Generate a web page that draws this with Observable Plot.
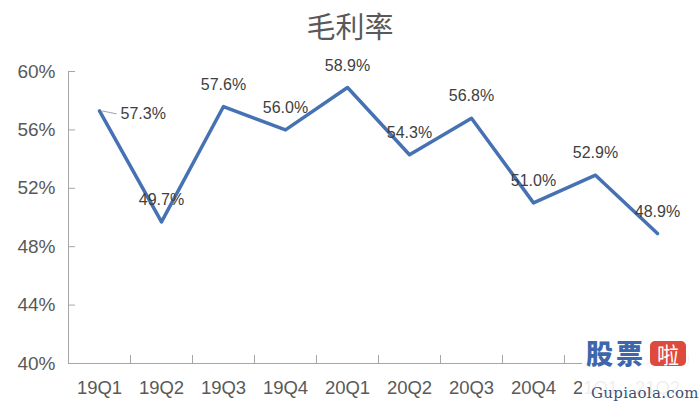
<!DOCTYPE html>
<html><head><meta charset="utf-8">
<script src="https://cdn.jsdelivr.net/npm/d3@7"></script>
<script src="https://cdn.jsdelivr.net/npm/@observablehq/plot@0.6"></script>
<style>
body{margin:0;background:#fff;}
#wrap{position:relative;width:700px;height:407px;overflow:hidden;background:#fff;}
#title{height:48px;line-height:50px;text-align:center;font-size:29px;font-family:"Noto Sans CJK SC",sans-serif;color:#595959;}
#wm{position:absolute;left:582px;top:339px;width:118px;height:68px;background:rgba(255,255,255,0.9);}
#wm .c{position:absolute;top:-1px;font-family:"Noto Sans CJK SC",sans-serif;font-weight:900;font-size:27px;line-height:29px;color:#3e66aa;}
#wm .r{position:absolute;left:68px;top:2px;width:36px;height:25px;border-radius:5px;background:#de4a3c;color:#fff;font-family:"Noto Sans CJK SC",sans-serif;font-size:22px;line-height:25px;text-align:center;}
#wm .g{position:absolute;left:9px;top:44px;font-family:"DejaVu Serif","Liberation Serif",serif;font-size:15px;line-height:20px;color:#3b5275;letter-spacing:0.3px;}
</style></head><body>
<div id="wrap">
<div id="title">毛利率</div>
<div id="chart"></div>
<div id="wm"><span class="c" style="left:4px">股</span><span class="c" style="left:34px">票</span><span class="r">啦</span><span class="g">Gupiaola.com</span></div>
</div>
<script>
const quarters = ["19Q1","19Q2","19Q3","19Q4","20Q1","20Q2","20Q3","20Q4","21Q1","21Q2"];
const grossMargin = [57.3,49.7,57.6,56.0,58.9,54.3,56.8,51.0,52.9,48.9];
const yTicks = [40,44,48,52,56,60];
const data = quarters.map((q,i)=>({q, v: grossMargin[i]}));
const axisColor = "#a6a6a6";
const chart = Plot.plot({
  width:700, height:359,
  marginTop:23, marginBottom:44, marginLeft:68, marginRight:12,
  x:{type:"point", domain:quarters, padding:0.5, label:null},
  y:{domain:[40,60], label:null},
  style:{fontFamily:"'Liberation Sans', Arial, sans-serif", background:"white", overflow:"visible"},
  marks:[
    Plot.frame({anchor:"left", stroke:axisColor}),
    Plot.ruleY([40], {stroke:axisColor}),
    Plot.axisY(yTicks, {tickSize:0, tickPadding:13, tickFormat:d=>d+"%", fontSize:19, fill:"#595959"}),
    Plot.axisY(yTicks, {tickSize:7, dx:7, text:null, stroke:axisColor}),
    Plot.axisX({tickSize:0, tickPadding:17, fontSize:18.5, fill:"#595959"}),
    Plot.axisX({tickSize:8, dy:-8, dx:31, text:null, stroke:axisColor}),
    Plot.line(data, {x:"q", y:"v", stroke:"#4672b4", strokeWidth:3.5, strokeLinejoin:"round", strokeLinecap:"round"}),
    Plot.vector(data.slice(0,1), {x:"q", y:"v", length:14, rotate:102, anchor:"start", dx:3, stroke:axisColor, strokeWidth:1,
      shape:{draw(ctx,l){ctx.moveTo(0,0);ctx.lineTo(0,-l);}}}),
    Plot.text(data.slice(0,1), {x:"q", y:"v", text:d=>d.v.toFixed(1)+"%", textAnchor:"start", dx:21, dy:3, fontSize:16, fill:"#404040"}),
    Plot.text(data.slice(1), {x:"q", y:"v", text:d=>d.v.toFixed(1)+"%", dy:-22, fontSize:16, fill:"#404040"})
  ]
});
document.getElementById("chart").appendChild(chart);
</script>
</body></html>
